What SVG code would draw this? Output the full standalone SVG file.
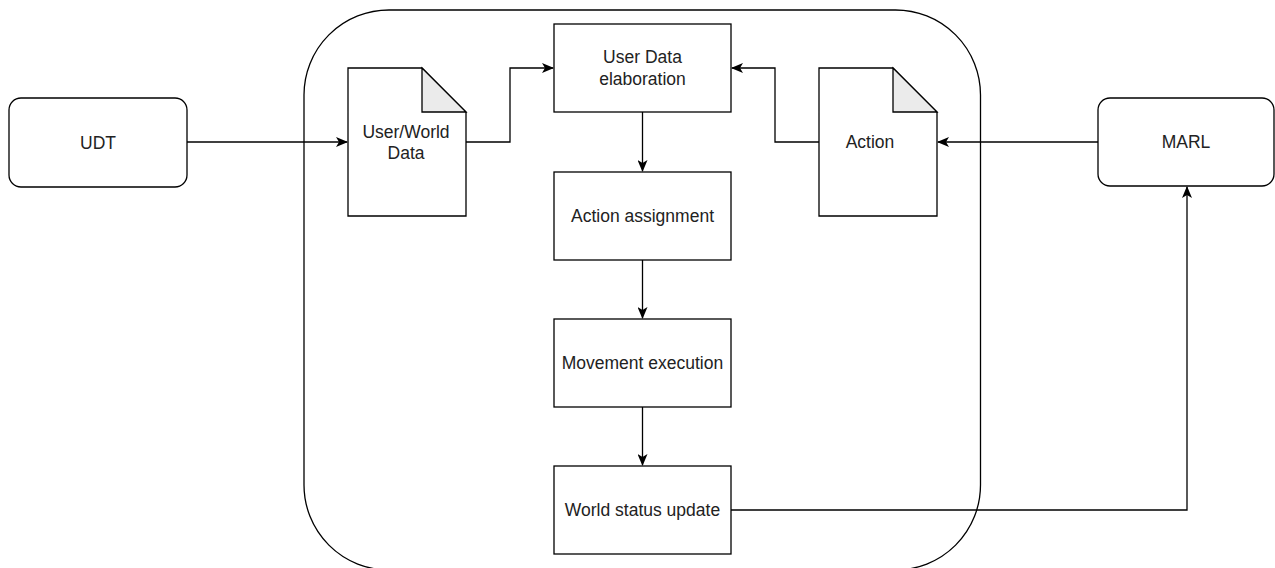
<svg xmlns="http://www.w3.org/2000/svg" width="1275" height="568" viewBox="0 0 1275 568">
<style>
.s{fill:#fff;stroke:#000;stroke-width:1.3}
.f{fill:#ebebeb;stroke:#000;stroke-width:1.3;stroke-linejoin:miter}
.t{font-family:"Liberation Sans",Arial,sans-serif;font-size:17.5px;fill:#222;text-anchor:middle;dominant-baseline:central}
.c{fill:none;stroke:#000;stroke-width:1.3}
</style>
<defs>
<marker id="a" viewBox="0 0 12 10" refX="11" refY="5" markerWidth="12" markerHeight="10" markerUnits="userSpaceOnUse" orient="auto">
<path d="M0,0 L12,5 L0,10 L3,5 Z" fill="#000"/>
</marker>
</defs>
<g id="container"><rect class="s" x="304" y="10" width="676.5" height="560" rx="85" ry="85"/></g>
<g id="udt"><rect class="s" x="9" y="98" width="178" height="89" rx="12"/><text class="t" x="98" y="142.5">UDT</text></g>
<g id="marl"><rect class="s" x="1098" y="98" width="176" height="88" rx="12"/><text class="t" x="1186" y="142">MARL</text></g>
<g id="userworld"><path class="s" d="M348,68 H422 L466,112 V216 H348 Z"/><path class="f" d="M422,68 V112 H466 Z"/><text class="t" x="406" y="132">User/World</text><text class="t" x="406" y="153">Data</text></g>
<g id="action"><path class="s" d="M819,68 H893 L937,112 V216 H819 Z"/><path class="f" d="M893,68 V112 H937 Z"/><text class="t" x="870" y="142">Action</text></g>
<g id="elab"><rect class="s" x="554" y="24" width="177" height="88"/><text class="t" x="642.5" y="57">User Data</text><text class="t" x="642.5" y="79">elaboration</text></g>
<g id="assign"><rect class="s" x="554" y="172" width="177" height="88"/><text class="t" x="642.5" y="216">Action assignment</text></g>
<g id="move"><rect class="s" x="554" y="319" width="177" height="88"/><text class="t" x="642.5" y="363">Movement execution</text></g>
<g id="world"><rect class="s" x="554" y="466" width="177" height="88"/><text class="t" x="642.5" y="510">World status update</text></g>
<g id="connectors">
<path class="c" d="M187,142 H347" marker-end="url(#a)"/>
<path class="c" d="M466,142 H510 V68 H553" marker-end="url(#a)"/>
<path class="c" d="M819,142 H775 V68 H732" marker-end="url(#a)"/>
<path class="c" d="M1098,142 H938" marker-end="url(#a)"/>
<path class="c" d="M642.5,112 V171" marker-end="url(#a)"/>
<path class="c" d="M642.5,260 V318" marker-end="url(#a)"/>
<path class="c" d="M642.5,407 V465" marker-end="url(#a)"/>
<path class="c" d="M731,510 H1187 V187" marker-end="url(#a)"/>
</g>
</svg>
